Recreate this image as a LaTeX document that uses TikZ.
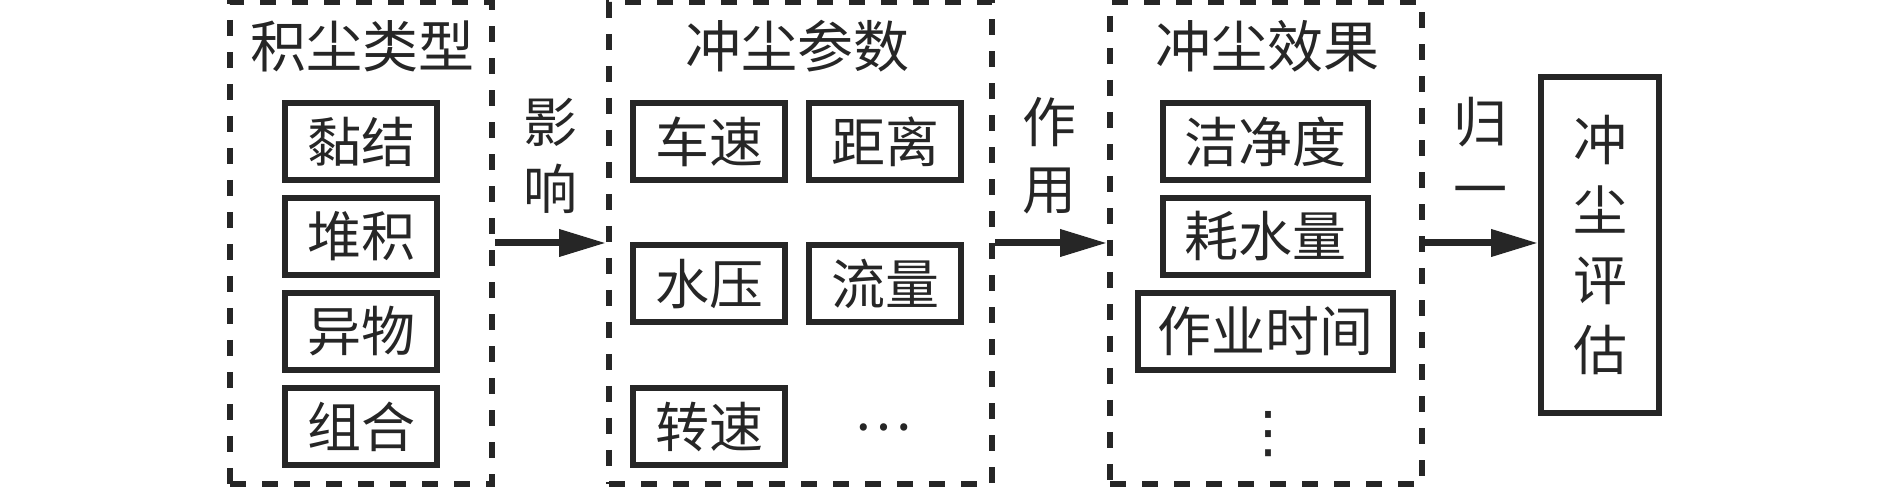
\documentclass[tikz,border=0pt]{standalone}
\usepackage{fontspec}
\newfontfamily\cjk{Noto Sans CJK SC}
\newfontfamily\djv{DejaVu Sans}
\usetikzlibrary{arrows.meta}
\definecolor{ink}{HTML}{262626}
\tikzset{
  group/.style={draw=ink, line width=3pt, dash pattern=on 8pt off 8pt, minimum height=241pt, inner sep=0pt},
  item/.style={draw=ink, line width=3pt, minimum height=38.5pt, inner sep=0pt, text=ink, font=\cjk\fontsize{27}{30}\selectfont},
  ttl/.style={text=ink, inner sep=0pt, font=\cjk\fontsize{28}{30}\selectfont},
  lbl/.style={text=ink, inner sep=0pt, align=center, font=\cjk\fontsize{27}{33.5}\selectfont},
  arr/.style={draw=ink, line width=3.5pt, -{Triangle[length=23.5pt,width=13pt]}},
}
\begin{document}
\begin{tikzpicture}[x=0.5pt,y=-0.5pt]
\useasboundingbox (0,0) rectangle (1890,490);
% groups
\node[group, minimum width=131pt] (g1) at (361,243) {};
\node[group, minimum width=191.5pt] (g2) at (800.5,243) {};
\node[group, minimum width=156pt] (g3) at (1266,243) {};
% titles
\node[ttl] (t1) at (362,46) {积尘类型};
\node[ttl] (t2) at (797,46) {冲尘参数};
\node[ttl] (t3) at (1267,46) {冲尘效果};
% column 1
\node[item, minimum width=76pt] (a1) at (361,141.5) {黏结};
\node[item, minimum width=76pt] (a2) at (361,236.5) {堆积};
\node[item, minimum width=76pt] (a3) at (361,331.5) {异物};
\node[item, minimum width=76pt] (a4) at (361,426.5) {组合};
% column 2
\node[item, minimum width=76pt] (b1) at (709,141.5) {车速};
\node[item, minimum width=76pt] (b2) at (885,141.5) {距离};
\node[item, minimum width=76pt] (b3) at (709,284) {水压};
\node[item, minimum width=76pt] (b4) at (885,284) {流量};
\node[item, minimum width=76pt] (b5) at (709,427) {转速};
\node[text=ink, font=\cjk\fontsize{27}{30}\selectfont] (b6) at (883,427) {…};
% column 3
\node[item, minimum width=102.5pt] (c1) at (1265.5,141.5) {洁净度};
\node[item, minimum width=102.5pt] (c2) at (1265.5,236.5) {耗水量};
\node[item, minimum width=127.5pt] (c3) at (1265.5,331.5) {作业时间};
\node[text=ink, font=\djv\fontsize{28}{30}\selectfont] (c4) at (1268,434) {⋮};
% final
\node[item, minimum width=59pt, minimum height=168pt, align=center, font=\cjk\fontsize{27}{35}\selectfont] (fin) at (1600,245) {冲\\尘\\评\\估};
% arrows
\draw[arr] (g1.east) -- (g2.west);
\draw[arr] (g2.east) -- (g3.west);
\draw[arr] (g3.east) -- (g3.east -| fin.west);
% labels
\node[lbl] (l1) at (550,156) {影\\响};
\node[lbl] (l2) at (1049,156) {作\\用};
\node[lbl] (l3) at (1480,156) {归\\一\vphantom{归}};
\end{tikzpicture}
\end{document}
